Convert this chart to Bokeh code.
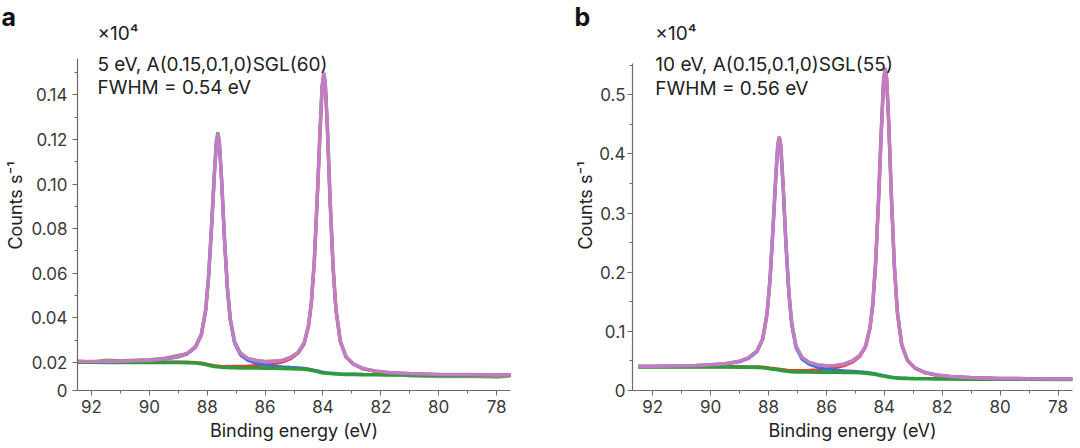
from bokeh.plotting import figure
from bokeh.layouts import row
from bokeh.models import Range1d, FixedTicker, Label, NumeralTickFormatter
from bokeh.embed import file_html
from bokeh.resources import INLINE

# Binding energy grid (eV)
energy = [92.5, 92.0, 91.5, 91.0, 90.5, 90.0, 89.5, 89.0, 88.7, 88.4, 88.2, 88.05, 87.95, 87.85,
          87.75, 87.68, 87.63, 87.58, 87.5, 87.4, 87.3, 87.2, 87.05, 86.85, 86.6, 86.3, 86.0, 85.7,
          85.4, 85.1, 84.85, 84.65, 84.5, 84.4, 84.3, 84.2, 84.1, 84.03, 83.97, 83.92, 83.85, 83.75,
          83.65, 83.55, 83.4, 83.2, 82.95, 82.6, 82.2, 81.7, 81.0, 80.0, 79.0, 78.0, 77.5]

# ---- panel a (5 eV), counts/s x10^4 ----
a_data = [0.0206, 0.0201, 0.0210, 0.0207, 0.0210, 0.0212, 0.0218, 0.0231, 0.0238, 0.0272, 0.0327,
          0.0436, 0.0588, 0.0806, 0.1050, 0.1195, 0.1232, 0.1190, 0.1015, 0.0748, 0.0532, 0.0394,
          0.0290, 0.0242, 0.0217, 0.0209, 0.0204, 0.0206, 0.0208, 0.0224, 0.0245, 0.0287, 0.0364,
          0.0470, 0.0650, 0.0928, 0.1236, 0.1436, 0.1500, 0.1449, 0.1268, 0.0918, 0.0630, 0.0436,
          0.0295, 0.0224, 0.0193, 0.0170, 0.0161, 0.0152, 0.0140, 0.0137, 0.0138, 0.0135, 0.0140]
a_background = [0.0201, 0.0201, 0.0200, 0.0200, 0.0200, 0.0200, 0.0200, 0.0200, 0.0199, 0.0197,
                0.0194, 0.0190, 0.0187, 0.0184, 0.0182, 0.0181, 0.0180, 0.0179, 0.0178, 0.0177,
                0.0177, 0.0176, 0.0176, 0.0175, 0.0175, 0.0175, 0.0174, 0.0174, 0.0173, 0.0172,
                0.0171, 0.0169, 0.0167, 0.0165, 0.0162, 0.0159, 0.0156, 0.0154, 0.0153, 0.0152,
                0.0151, 0.0150, 0.0149, 0.0148, 0.0147, 0.0146, 0.0146, 0.0145, 0.0145, 0.0144,
                0.0144, 0.0143, 0.0143, 0.0142, 0.0142]
a_comp_52 = [0.0203, 0.02034, 0.02031, 0.02041, 0.02056, 0.02082, 0.02131, 0.02241, 0.02377,
             0.02672, 0.03215, 0.04339, 0.05823, 0.08015, 0.10421, 0.11837, 0.1218, 0.11817,
             0.10126, 0.07453, 0.05283, 0.03868, 0.02835, 0.02335, 0.02097, 0.01963, 0.01883,
             0.01843, 0.01807, 0.0178, 0.0176, 0.01734, 0.0171, 0.01687, 0.01655, 0.01623,
             0.01591, 0.0157, 0.01559, 0.01548, 0.01537, 0.01526, 0.01515, 0.01503, 0.01492,
             0.0148, 0.01478, 0.01465, 0.01463, 0.01451, 0.01449, 0.01437, 0.01435, 0.01424, 0.01424]
a_comp_72 = [0.02018, 0.02019, 0.02011, 0.02012, 0.02014, 0.02017, 0.0202, 0.02024, 0.02017,
             0.02001, 0.01974, 0.01936, 0.01908, 0.0188, 0.01862, 0.01854, 0.01845, 0.01836,
             0.01828, 0.01821, 0.01824, 0.01817, 0.01824, 0.01823, 0.01836, 0.0186, 0.01884,
             0.01938, 0.02017, 0.02171, 0.02415, 0.02819, 0.03613, 0.04648, 0.06479, 0.09231,
             0.1235, 0.14312, 0.1495, 0.14484, 0.1263, 0.09176, 0.06266, 0.04347, 0.02915,
             0.02236, 0.01916, 0.0171, 0.01607, 0.01537, 0.01497, 0.01462, 0.0145, 0.01434, 0.01432]
a_envelope = [0.02038, 0.02044, 0.02042, 0.02053, 0.0207, 0.02099, 0.02151, 0.02265, 0.02404,
              0.02702, 0.03248, 0.04375, 0.05861, 0.08055, 0.10463, 0.11881, 0.12225, 0.11863,
              0.10174, 0.07504, 0.05337, 0.03925, 0.02899, 0.02408, 0.02183, 0.02073, 0.02027,
              0.0204, 0.02094, 0.02231, 0.02465, 0.02863, 0.03653, 0.04685, 0.06514, 0.09264,
              0.12381, 0.14342, 0.14979, 0.14512, 0.12657, 0.09202, 0.06291, 0.0437, 0.02937,
              0.02256, 0.01934, 0.01725, 0.0162, 0.01548, 0.01506, 0.01469, 0.01455, 0.01438, 0.01436]

# ---- panel b (10 eV), counts/s x10^4 ----
b_data = [0.0410, 0.0411, 0.0413, 0.0418, 0.0424, 0.0436, 0.0452, 0.0496, 0.0549, 0.0667, 0.0877,
          0.1310, 0.1877, 0.2710, 0.3620, 0.4160, 0.4295, 0.4150, 0.3505, 0.2492, 0.1670, 0.1136,
          0.0745, 0.0562, 0.0476, 0.0432, 0.0420, 0.0424, 0.0446, 0.0502, 0.0592, 0.0746, 0.1054,
          0.1455, 0.2168, 0.3235, 0.4445, 0.5210, 0.5460, 0.5272, 0.4549, 0.3206, 0.2075, 0.1328,
          0.0774, 0.0510, 0.0383, 0.0305, 0.0261, 0.0236, 0.0218, 0.0204, 0.0199, 0.0196, 0.0194]
b_background = [0.0398, 0.0398, 0.0398, 0.0397, 0.0397, 0.0397, 0.0396, 0.0395, 0.0393, 0.0389,
                0.0383, 0.0375, 0.0368, 0.0361, 0.0354, 0.0349, 0.0345, 0.0341, 0.0335, 0.0328,
                0.0322, 0.0318, 0.0314, 0.0312, 0.0311, 0.0310, 0.0309, 0.0308, 0.0306, 0.0304,
                0.0300, 0.0293, 0.0285, 0.0278, 0.0270, 0.0260, 0.0250, 0.0244, 0.0239, 0.0234,
                0.0228, 0.0220, 0.0214, 0.0209, 0.0205, 0.0202, 0.0200, 0.0198, 0.0196, 0.0194,
                0.0192, 0.0190, 0.0189, 0.0188, 0.0188]
b_comp_52 = [0.04055, 0.04072, 0.04098, 0.04124, 0.04183, 0.0428, 0.04456, 0.0486, 0.05392, 0.0654,
             0.08644, 0.12962, 0.18607, 0.2693, 0.36021, 0.41357, 0.4265, 0.41277, 0.34867,
             0.24742, 0.16485, 0.11142, 0.07201, 0.05331, 0.04419, 0.03904, 0.03631, 0.03468,
             0.03352, 0.03267, 0.03189, 0.03094, 0.02999, 0.0292, 0.02832, 0.02724, 0.02617,
             0.02553, 0.02499, 0.02446, 0.02382, 0.02297, 0.02233, 0.02178, 0.02132, 0.02095,
             0.02067, 0.02038, 0.0201, 0.01982, 0.01953, 0.01925, 0.0191, 0.01896, 0.01895]
b_comp_72 = [0.04012, 0.04016, 0.04021, 0.04017, 0.04025, 0.04035, 0.04037, 0.04043, 0.04035,
             0.04009, 0.03961, 0.0389, 0.03827, 0.03765, 0.03703, 0.03659, 0.03624, 0.03589,
             0.03537, 0.03478, 0.0343, 0.03403, 0.03386, 0.03401, 0.03445, 0.03526, 0.03649,
             0.03845, 0.0417, 0.04787, 0.0573, 0.07303, 0.1038, 0.14397, 0.21529, 0.32209, 0.44308,
             0.51928, 0.5439, 0.52572, 0.45367, 0.31944, 0.20647, 0.13197, 0.0765, 0.05026,
             0.03768, 0.02986, 0.0257, 0.02314, 0.02139, 0.02023, 0.01969, 0.01935, 0.01926]
b_envelope = [0.04087, 0.04108, 0.04139, 0.04172, 0.04238, 0.04345, 0.04533, 0.04953, 0.05497,
              0.06659, 0.08775, 0.13102, 0.18754, 0.27085, 0.36184, 0.41526, 0.42824, 0.41456,
              0.35054, 0.2494, 0.16695, 0.11364, 0.07447, 0.05612, 0.04754, 0.0433, 0.0419,
              0.04233, 0.04462, 0.05015, 0.05919, 0.07467, 0.10529, 0.14537, 0.21661, 0.32333,
              0.44425, 0.52041, 0.54499, 0.52678, 0.45469, 0.32041, 0.2074, 0.13285, 0.07732,
              0.05101, 0.03835, 0.03044, 0.0262, 0.02356, 0.02172, 0.02048, 0.01989, 0.01951, 0.01941]

# ticks / labels
x_major = [92, 90, 88, 86, 84, 82, 80, 78]
x_minor = [91, 89, 87, 85, 83, 81, 79]
a_y_major = [0.0074, 0.02, 0.04, 0.06, 0.08, 0.10, 0.12, 0.14]
a_y_minor = [0.03, 0.05, 0.07, 0.09, 0.11, 0.13, 0.15]
b_y_major = [0.0, 0.1, 0.2, 0.3, 0.4, 0.5]
b_y_minor = [0.05, 0.15, 0.25, 0.35, 0.45, 0.55]
a_texts = ["\u00d710\u2074", "5 eV, A(0.15,0.1,0)SGL(60)", "FWHM = 0.54 eV"]
b_texts = ["\u00d710\u2074", "10 eV, A(0.15,0.1,0)SGL(55)", "FWHM = 0.56 eV"]

FONT = "Inter"
C_DATA = "#8f9a6c"
C_BLUE = "#3a6fd6"
C_RED = "#e0413a"
C_GREEN = "#2f9a3a"
C_PURPLE = "#c27cc6"
AX = "#6a6a6a"


def make_panel(width, xr, yr, ybounds, ymaj, ymin, border_left, border_right,
               tick_standoff, label_standoff, series, letter, letter_offset, texts, text_x,
               text_ys, overrides=None, fmt=None):
    p = figure(width=width, height=448, output_backend="svg", toolbar_location=None,
               x_range=Range1d(*xr), y_range=Range1d(*yr),
               min_border_left=border_left, min_border_right=border_right,
               min_border_top=20, min_border_bottom=58)
    p.outline_line_color = None
    p.grid.visible = False
    p.background_fill_color = "white"
    p.border_fill_color = "white"

    # panel letter as title, pulled to the left of the frame and down into the top border
    p.title.text = letter
    p.title.align = "left"
    p.title.offset = letter_offset
    p.title.standoff = -22
    p.title.text_font = FONT
    p.title.text_font_size = "25px"
    p.title.text_font_style = "bold"
    p.title.text_color = "#111111"

    p.xaxis.ticker = FixedTicker(ticks=x_major, minor_ticks=x_minor)
    p.yaxis.ticker = FixedTicker(ticks=ymaj, minor_ticks=ymin)
    p.yaxis.bounds = ybounds
    if fmt is not None:
        p.yaxis.formatter = fmt
    if overrides:
        p.yaxis.major_label_overrides = overrides
    for ax in (p.xaxis[0], p.yaxis[0]):
        ax.axis_line_color = AX
        ax.axis_line_width = 1.2
        ax.major_tick_line_color = AX
        ax.minor_tick_line_color = AX
        ax.major_tick_in = 0
        ax.major_tick_out = 5
        ax.minor_tick_in = 0
        ax.minor_tick_out = 3
        ax.major_label_text_font = FONT
        ax.major_label_text_font_size = "17px"
        ax.major_label_text_color = "#3a3a3a"
        ax.axis_label_text_font = FONT
        ax.axis_label_text_font_size = "18px"
        ax.axis_label_text_font_style = "normal"
        ax.axis_label_text_color = "#222222"
    p.xaxis.major_label_standoff = 4
    p.yaxis.major_label_standoff = tick_standoff
    p.xaxis.axis_label = "Binding energy (eV)"
    p.xaxis.axis_label_standoff = 4
    p.yaxis.axis_label = "Counts s\u207b\u00b9"
    p.yaxis.axis_label_standoff = label_standoff

    data, comp52, comp72, bg, env = series
    p.line(energy, data, line_color=C_DATA, line_width=3.5)
    p.line(energy, comp72, line_color=C_RED, line_width=3)
    p.line(energy, comp52, line_color=C_BLUE, line_width=3)
    p.line(energy, bg, line_color=C_GREEN, line_width=3.5)
    p.line(energy, env, line_color=C_PURPLE, line_width=3.5)

    for t, ty in zip(texts, text_ys):
        p.add_layout(Label(x=text_x, y=ty, text=t, text_font=FONT, text_font_size="19px",
                           text_color="#222222", text_baseline="alphabetic"))
    return p


pa = make_panel(570, (92.48, 77.52), (0.0074, 0.1734), (0.0074, 0.1563),
                a_y_major, a_y_minor, 77, 60, 5, 2,
                (a_data, a_comp_52, a_comp_72, a_background, a_envelope),
                "a", -76, a_texts, 91.79, [0.1675, 0.1536, 0.1433],
                overrides={0.0074: "0"}, fmt=NumeralTickFormatter(format="0.00"))
pb = make_panel(510, (92.7, 77.5), (0.0, 0.6257), (0.0, 0.553),
                b_y_major, b_y_minor, 62, 8, 2, 0,
                (b_data, b_comp_52, b_comp_72, b_background, b_envelope),
                "b", -58, b_texts, 91.91, [0.6037, 0.5513, 0.5107])

layout = row(pa, pb)
open("out.html", "w").write(file_html(layout, INLINE))
